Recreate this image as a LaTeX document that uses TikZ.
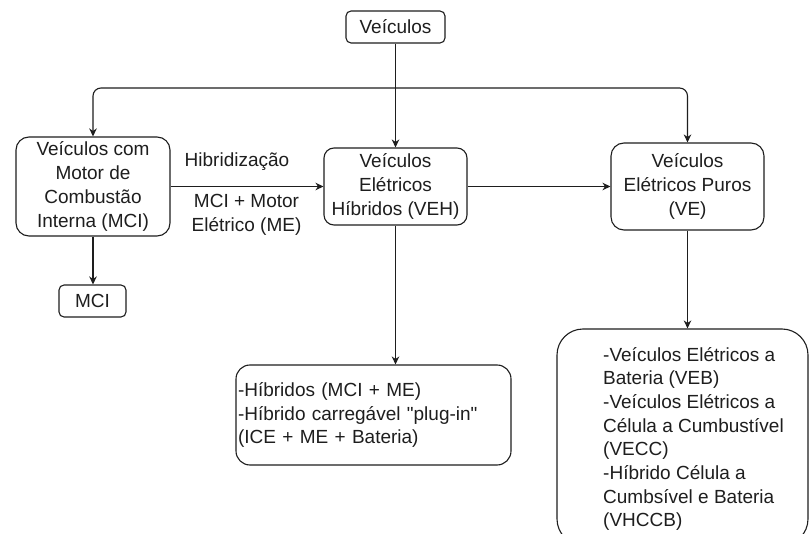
\documentclass[tikz,border=0pt]{standalone}
\usepackage{fontspec}
\setmainfont{Liberation Sans}[Ligatures=TeXOff]
\usetikzlibrary{arrows.meta}
\definecolor{ink}{HTML}{1E1E1E}
\tikzset{
  box/.style={draw=ink, line width=1.1pt, align=center, inner sep=1pt, text=ink},
  conn/.style={draw=ink, line width=1.1pt, -{Stealth[length=8pt,width=7.5pt,inset=2.5pt]}},
  lbl/.style={align=center, inner sep=0pt, text=ink},
}
\begin{document}
\begin{tikzpicture}[x=1pt, y=-1pt, font=\fontsize{19}{23.7}\selectfont]
\clip (0,0) rectangle (810,534);
\fill[white] (0,0) rectangle (810,534);

% boxes
\node[box, minimum width=99pt, minimum height=32pt, rounded corners=5pt] (veic) at (395.5,27) {Veículos};
\node[box, minimum width=154pt, minimum height=99pt, rounded corners=13pt] (mci) at (93,186.5)
  {Veículos com\\Motor de\\Combustão\\Interna (MCI)};
\node[box, minimum width=143pt, minimum height=77pt, rounded corners=10pt] (veh) at (395.5,186.5)
  {Veículos\\Elétricos\\Híbridos (VEH)};
\node[box, minimum width=153pt, minimum height=87pt, rounded corners=13pt] (ve) at (687.5,186.5)
  {Veículos\\Elétricos Puros\\(VE)};
\node[box, minimum width=67pt, minimum height=32pt, rounded corners=5pt] (mcis) at (92.5,301) {MCI};
\node[box, minimum width=275pt, minimum height=100pt, rounded corners=14pt, text width=271pt, align=left,
      inner xsep=2pt] (hib) at (373.5,415)
  {-Híbridos (MCI + ME)\\-Híbrido carregável "plug-in"\\(ICE + ME + Bateria)};
\node[box, minimum width=251pt, minimum height=216pt, rounded corners=26pt] (pur) at (682.5,437) {};
\node[lbl, align=left, anchor=west] (purtxt) at (603,439)
  {-Veículos Elétricos a\\Bateria (VEB)\\-Veículos Elétricos a\\Célula a Cumbustível\\(VECC)\\-Híbrido Célula a\\Cumbsível e Bateria\\(VHCCB)};

% edge labels
\node[lbl] (hlab) at (237,162) {Hibridização};
\node[lbl] (mlab) at (246.5,215) {MCI + Motor\\Elétrico (ME)};

% connectors
\coordinate (split) at (395.5,88);
\draw[conn] (veic.south) -- (veh.north);
\draw[conn, rounded corners=8pt] (split) -| (mci.north);
\draw[conn, rounded corners=8pt] (split) -| (ve.north);
\draw[conn] (mci.east) -- (veh.west);
\draw[conn] (veh.east) -- (ve.west);
\draw[conn] (mci.south) -- (mci.south |- mcis.north);
\draw[conn] (veh.south) -- (veh.south |- hib.north);
\draw[conn] (ve.south) -- (ve.south |- pur.north);
\end{tikzpicture}
\end{document}
